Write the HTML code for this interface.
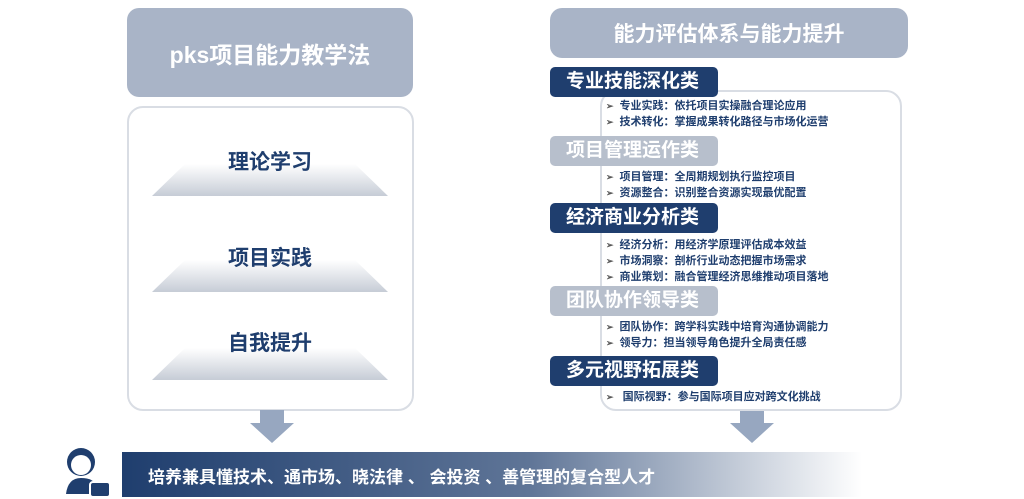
<!DOCTYPE html>
<html><head><meta charset="utf-8"><style>
*{margin:0;padding:0;box-sizing:border-box}
body{width:1024px;height:499px;background:#fff;position:relative;overflow:hidden;font-family:"Liberation Sans","Noto Sans CJK SC",sans-serif;font-weight:bold}
.a{position:absolute}
.hdr{background:#a9b4c7;color:#fff;border-radius:12px;display:flex;align-items:center;justify-content:center}
.box{border:2px solid #d9dde4;border-radius:16px}
.lt{font-size:21px;color:#1f3e6e;width:286px;text-align:center;left:127px}
.tab{left:550px;width:168px;height:30px;border-radius:5px;color:#fff;font-size:19px;line-height:30px;padding-left:16px}
.dk{background:#1f3e6e}.lg{background:#b7bfcc}
.bl{left:606px;font-size:11px;color:#1f3e6e;line-height:16px;white-space:nowrap}
.bl span{color:#555;margin-right:6px;font-size:9px}
</style></head><body>
<div class="a hdr" style="left:127px;top:8px;width:286px;height:89px;font-size:23px">pks项目能力教学法</div>
<div class="a box" style="left:127px;top:106px;width:287px;height:305px"></div>
<svg class="a" style="left:0;top:0" width="1024" height="499">
<defs><linearGradient id="t" x1="0" y1="0" x2="0" y2="1"><stop offset="0" stop-color="#fff"/><stop offset="1" stop-color="#c6ccd6"/></linearGradient>
<linearGradient id="b" x1="0" y1="0" x2="1" y2="0"><stop offset="0" stop-color="#1f3e6e"/><stop offset="0.55" stop-color="#5f7597"/><stop offset="1" stop-color="#fff"/></linearGradient></defs>
<polygon points="185,164 355,164 388,196 152,196" fill="url(#t)"/>
<polygon points="185,260 355,260 388,292 152,292" fill="url(#t)"/>
<polygon points="185,348 355,348 388,380 152,380" fill="url(#t)"/>
<polygon points="260,410 284,410 284,423 294,423 272,443 250,423 260,423" fill="#97a7c0"/>
<polygon points="740,410 764,410 764,423 774,423 752,443 730,423 740,423" fill="#97a7c0"/>
<rect x="122" y="452" width="740" height="45" fill="url(#b)"/>
<circle cx="81" cy="462" r="14" fill="#1f3e6e"/>
<circle cx="81" cy="465" r="10" fill="#fff"/>
<path d="M66 494 Q68 478 81 478 Q94 478 96 486 L96 494Z" fill="#1f3e6e"/>
<rect x="90" y="482" width="20" height="15" rx="3" fill="#1f3e6e" stroke="#fff" stroke-width="2"/>
</svg>
<div class="a lt" style="top:146px">理论学习</div>
<div class="a lt" style="top:242px">项目实践</div>
<div class="a lt" style="top:327px">自我提升</div>
<div class="a hdr" style="left:550px;top:8px;width:358px;height:50px;font-size:21px">能力评估体系与能力提升</div>
<div class="a box" style="left:600px;top:90px;width:302px;height:321px"></div>
<div class="a tab dk" style="top:67px">专业技能深化类</div>
<div class="a bl" style="top:98px"><span>➢</span>专业实践：依托项目实操融合理论应用<br><span>➢</span>技术转化：掌握成果转化路径与市场化运营</div>
<div class="a tab lg" style="top:136px">项目管理运作类</div>
<div class="a bl" style="top:169px"><span>➢</span>项目管理：全周期规划执行监控项目<br><span>➢</span>资源整合：识别整合资源实现最优配置</div>
<div class="a tab dk" style="top:203px">经济商业分析类</div>
<div class="a bl" style="top:237px"><span>➢</span>经济分析：用经济学原理评估成本效益<br><span>➢</span>市场洞察：剖析行业动态把握市场需求<br><span>➢</span>商业策划：融合管理经济思维推动项目落地</div>
<div class="a tab lg" style="top:286px">团队协作领导类</div>
<div class="a bl" style="top:319px"><span>➢</span>团队协作：跨学科实践中培育沟通协调能力<br><span>➢</span>领导力：担当领导角色提升全局责任感</div>
<div class="a tab dk" style="top:356px">多元视野拓展类</div>
<div class="a bl" style="top:389px"><span>➢</span> 国际视野：参与国际项目应对跨文化挑战</div>
<div class="a" style="left:148px;top:463px;color:#fff;font-size:17px;white-space:nowrap">培养兼具懂技术、通市场、晓法律 、 会投资 、善管理的复合型人才</div>
</body></html>
